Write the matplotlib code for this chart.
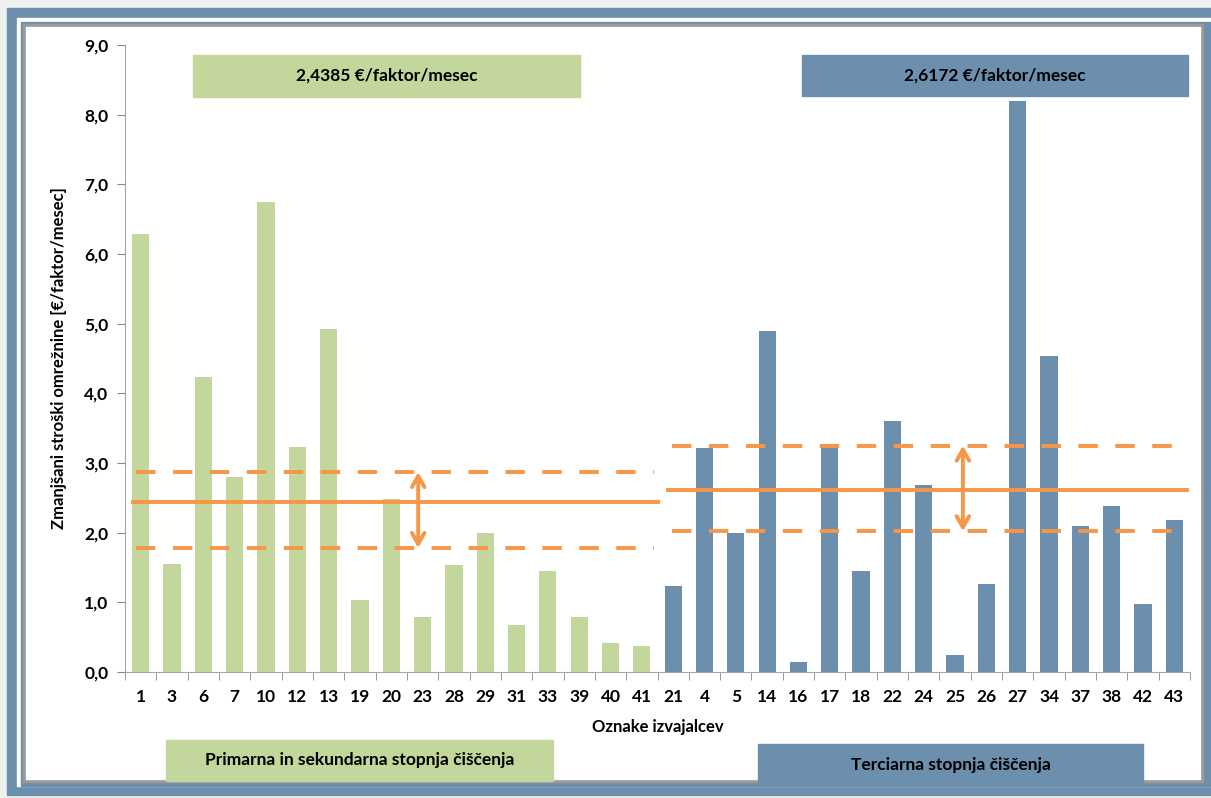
import numpy as np
import matplotlib.pyplot as plt
from matplotlib.patches import Rectangle
from matplotlib.ticker import FuncFormatter

plt.rcParams['font.family'] = ['Lato', 'DejaVu Sans']
plt.rcParams['font.weight'] = 'bold'

# data
labels_prim = ['1', '3', '6', '7', '10', '12', '13', '19', '20', '23', '28', '29', '31', '33', '39', '40', '41']
values_prim = [6.28, 1.55, 4.23, 2.80, 6.75, 3.23, 4.93, 1.03, 2.48, 0.79, 1.54, 1.99, 0.68, 1.45, 0.79, 0.42, 0.37]
labels_terc = ['21', '4', '5', '14', '16', '17', '18', '22', '24', '25', '26', '27', '34', '37', '38', '42', '43']
values_terc = [1.24, 3.21, 2.00, 4.89, 0.14, 3.27, 1.45, 3.61, 2.68, 0.25, 1.27, 8.20, 4.53, 2.10, 2.38, 0.97, 2.18]
mean_prim = 2.4385
band_prim = [1.78, 2.87]
mean_terc = 2.6172
band_terc = [2.02, 3.25]

green = '#c3d69b'
blue = '#6c8fad'
orange = '#f79646'

fig = plt.figure(figsize=(12.11, 7.98), dpi=100)

# frame drawn in pixel coordinates
bg = fig.add_axes([0, 0, 1, 1], zorder=-10)
bg.set_xlim(0, 1211)
bg.set_ylim(798, 0)
bg.axis('off')
bg.add_patch(Rectangle((0, 0), 1211, 798, color='#eef2ee'))
bg.add_patch(Rectangle((7, 8), 1204, 787, color=blue))
bg.add_patch(Rectangle((17, 18), 1194, 768, color='white'))
bg.add_patch(Rectangle((21, 22), 1190, 764, color=blue))
bg.add_patch(Rectangle((23, 24), 1180, 758, color='#9a9a9a'))
bg.add_patch(Rectangle((26, 27), 1174, 752, color='white'))

ax = fig.add_axes([125 / 1211, 1 - 672 / 798, 1065 / 1211, 627 / 798])
ax.patch.set_alpha(0)

labels = labels_prim + labels_terc
n1 = len(values_prim)
x1 = np.arange(n1)
x2 = np.arange(len(values_terc)) + n1
ax.bar(x1, values_prim, width=0.55, color=green, zorder=2)
ax.bar(x2, values_terc, width=0.55, color=blue, zorder=2)

ax.set_xlim(-0.5, len(labels) - 0.5)
ax.set_ylim(0, 9)

# mean lines and bands
ax.plot([-0.25, n1 - 0.5], [mean_prim, mean_prim], color=orange, lw=2.8, zorder=3)
for b in band_prim:
    ax.plot([-0.15, n1 - 0.6], [b, b], color=orange, lw=2.8, dashes=(5, 4.5), zorder=3)
ax.plot([n1 - 0.15, len(labels) - 0.6], [mean_terc, mean_terc], color=orange, lw=2.8, zorder=3)
for b in band_terc:
    ax.plot([n1 - 0.05, len(labels) - 0.6], [b, b], color=orange, lw=2.8, dashes=(5, 4.5), zorder=3)

arrow = dict(arrowstyle='<->,head_length=0.8,head_width=0.45', color=orange, lw=2.8,
             shrinkA=0, shrinkB=0)
ax.annotate('', xy=(8.86, band_prim[1]), xytext=(8.86, band_prim[0]), arrowprops=arrow, zorder=4)
ax.annotate('', xy=(26.25, band_terc[1]), xytext=(26.25, band_terc[0]), arrowprops=arrow, zorder=4)

ax.set_yticks(np.arange(0, 9.5, 1))
ax.yaxis.set_major_formatter(FuncFormatter(lambda v, p: f'{v:.1f}'.replace('.', ',')))
ax.set_xticks(np.arange(len(labels)))
ax.set_xticklabels(labels)
ax.set_xticks(np.arange(len(labels) + 1) - 0.5, minor=True)
ax.tick_params(axis='x', which='major', length=0, pad=12, labelsize=12.5)
ax.tick_params(axis='x', which='minor', length=6, color='#888888')
ax.tick_params(axis='y', length=6, color='#888888', labelsize=12.5, pad=6)
for s in ['top', 'right']:
    ax.spines[s].set_visible(False)
for s in ['left', 'bottom']:
    ax.spines[s].set_color('#a6a6a6')

ax.set_xlabel('Oznake izvajalcev', fontsize=12, fontweight='bold', labelpad=10)
ax.set_ylabel('Zmanjšani stroški omrežnine [€/faktor/mesec]', fontsize=12, fontweight='bold', labelpad=12)

# label boxes on a top overlay
top = fig.add_axes([0, 0, 1, 1], zorder=10)
top.set_xlim(0, 1211)
top.set_ylim(798, 0)
top.axis('off')


def box(x0, y0, x1_, y1_, color, text):
    top.add_patch(Rectangle((x0, y0), x1_ - x0, y1_ - y0, color=color, zorder=5))
    top.text((x0 + x1_) / 2, (y0 + y1_) / 2, text, ha='center', va='center',
             fontsize=12.5, fontweight='bold', zorder=6)


box(193, 55, 580, 97, green, '2,4385 €/faktor/mesec')
box(802, 55, 1188, 96, blue, '2,6172 €/faktor/mesec')
box(166, 740, 553, 781, green, 'Primarna in sekundarna stopnja čiščenja')
box(758, 744, 1143, 786, blue, 'Terciarna stopnja čiščenja')

fig.savefig('out.png', dpi=100)
